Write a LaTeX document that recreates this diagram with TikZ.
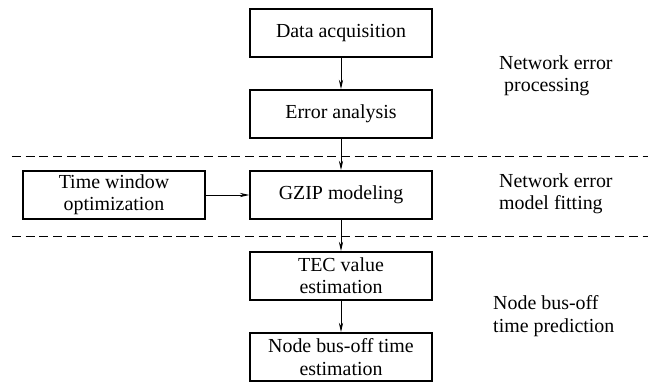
\documentclass[tikz,border=0pt]{standalone}
\usepackage{fontspec}
\setmainfont{Liberation Serif}
\usepackage{tikz}
\usetikzlibrary{arrows.meta}

\begin{document}
\begin{tikzpicture}[
                node distance=2.43cm,         % 上下方框中心间距
                every node/.style={
                    font=\fontsize{17pt}{19pt}\selectfont
                },
                box/.style={
                    rectangle,
                    draw,
                    line width=1.3pt,
                    minimum width=5.46cm,
                    minimum height=1.45cm,
                    inner sep=3pt,
                    align=center
                },
                stage/.style={anchor=west, inner sep=0pt, align=left},
                >={Stealth[length=8pt,width=3.6pt]},
                arrow/.style={->, line width=0.7pt},
                divider/.style={line width=0.8pt, dash pattern=on 7.7pt off 4pt}
            ]
                \useasboundingbox (-10.23,0.99) rectangle (9.21,-10.56);

                % 方框
                \node[box] (data) {Data acquisition};
                \node[box] (error) [below of=data] {Error analysis};
                \node[box] (gzip) [below of=error] {GZIP modeling};
                \node[box] (window) [left of=gzip, node distance=6.81cm] {Time window\\optimization};
                \node[box] (tec) [below of=gzip] {TEC value\\estimation};
                \node[box] (busoff) [below of=tec] {Node bus-off time\\estimation};

                % 分隔线
                \draw[divider] (-9.87,-3.69) -- (9.21,-3.69);
                \draw[divider] (-9.87,-6.09) -- (9.21,-6.09);

                % 阶段说明
                \node[stage] (proc) at (4.74,-1.29) {Network error\\\hspace{0.15cm}processing};
                \node[stage] (fit) at (4.74,-4.83) {Network error\\model fitting};
                \node[stage] (pred) at (4.56,-8.49) {Node bus-off\\time prediction};

                % 箭头
                \draw[arrow] (data) -- (error);
                \draw[arrow] (error) -- (gzip);
                \draw[arrow] (window) -- (gzip);
                \draw[arrow] (gzip) -- (tec);
                \draw[arrow] (tec) -- (busoff);
            \end{tikzpicture}
\end{document}
